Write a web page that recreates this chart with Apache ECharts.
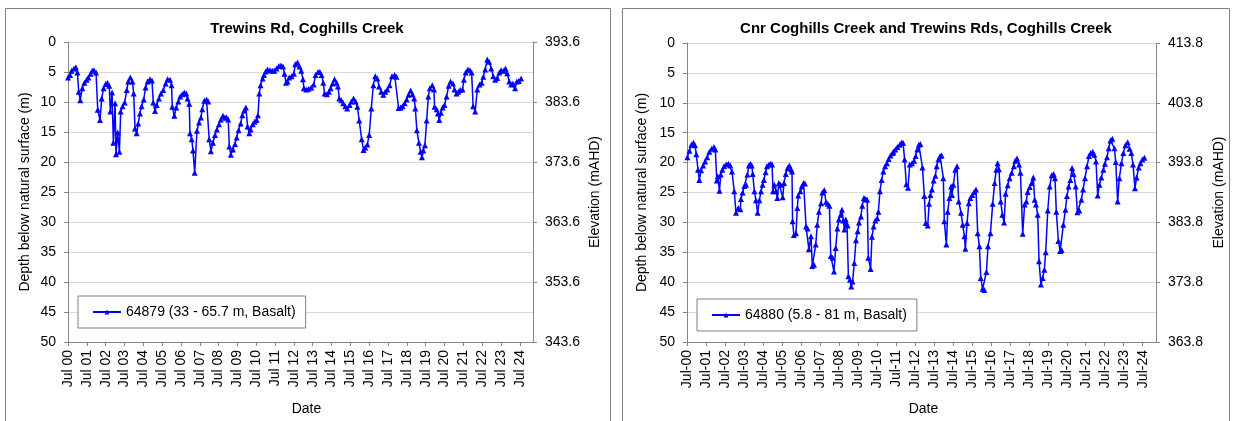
<!DOCTYPE html>
<html>
<head>
<meta charset="utf-8">
<title>Coghills Creek bores</title>
<script src="https://cdn.jsdelivr.net/npm/echarts@6/dist/echarts.min.js"></script>
<style>
  html, body { margin: 0; padding: 0; background: #fff; }
  #chart { width: 1234px; height: 421px; }
</style>
</head>
<body>
<div id="chart"></div>
<script>
  // x positions are decimal years, Jul 2000 = 2000.5
  const tickYears = [2000.5, 2001.5, 2002.5, 2003.5, 2004.5, 2005.5, 2006.5, 2007.5, 2008.5, 2009.5,
    2010.5, 2011.5, 2012.5, 2013.5, 2014.5, 2015.5, 2016.5, 2017.5, 2018.5, 2019.5,
    2020.5, 2021.5, 2022.5, 2023.5, 2024.5];
  const leftTickLabels = ['Jul 00', 'Jul 01', 'Jul 02', 'Jul 03', 'Jul 04', 'Jul 05', 'Jul 06', 'Jul 07', 'Jul 08',
    'Jul 09', 'Jul 10', 'Jul 11', 'Jul 12', 'Jul 13', 'Jul 14', 'Jul 15', 'Jul 16', 'Jul 17', 'Jul 18',
    'Jul 19', 'Jul 20', 'Jul 21', 'Jul 22', 'Jul 23', 'Jul 24'];
  const rightTickLabels = ['Jul-00', 'Jul-01', 'Jul-02', 'Jul-03', 'Jul-04', 'Jul-05', 'Jul-06', 'Jul-07', 'Jul-08',
    'Jul-09', 'Jul-10', 'Jul-11', 'Jul-12', 'Jul-13', 'Jul-14', 'Jul-15', 'Jul-16', 'Jul-17', 'Jul-18',
    'Jul-19', 'Jul-20', 'Jul-21', 'Jul-22', 'Jul-23', 'Jul-24'];
  const leftElevLabels = ['393.6', '383.6', '373.6', '363.6', '353.6', '343.6'];
  const rightElevLabels = ['413.8', '403.8', '393.8', '383.8', '373.8', '363.8'];

  // bore 64879 - Trewins Rd
  const bore64879Years = [
    2000.50, 2000.61, 2000.69, 2000.82, 2000.92, 2001.00, 2001.07, 2001.15, 2001.26, 2001.37,
    2001.49, 2001.58, 2001.70, 2001.79, 2001.88, 2001.99, 2002.08, 2002.20, 2002.29, 2002.39,
    2002.50, 2002.59, 2002.69, 2002.75, 2002.84, 2002.91, 2003.00, 2003.05, 2003.14, 2003.23,
    2003.30, 2003.40, 2003.51, 2003.62, 2003.70, 2003.81, 2003.92, 2003.99, 2004.06, 2004.15,
    2004.23, 2004.32, 2004.41, 2004.52, 2004.62, 2004.73, 2004.85, 2004.96, 2005.03, 2005.12,
    2005.21, 2005.33, 2005.44, 2005.56, 2005.69, 2005.79, 2005.92, 2006.00, 2006.04, 2006.15,
    2006.25, 2006.36, 2006.46, 2006.57, 2006.68, 2006.78, 2006.85, 2006.94, 2006.98, 2007.07,
    2007.14, 2007.23, 2007.35, 2007.46, 2007.56, 2007.63, 2007.74, 2007.86, 2007.95, 2008.00,
    2008.09, 2008.20, 2008.31, 2008.41, 2008.52, 2008.62, 2008.73, 2008.84, 2008.92, 2009.01,
    2009.07, 2009.15, 2009.26, 2009.37, 2009.46, 2009.56, 2009.67, 2009.76, 2009.86, 2009.95,
    2010.04, 2010.13, 2010.20, 2010.31, 2010.41, 2010.52, 2010.59, 2010.66, 2010.73, 2010.84,
    2010.91, 2011.00, 2011.10, 2011.23, 2011.35, 2011.46, 2011.58, 2011.70, 2011.81, 2011.92,
    2012.00, 2012.08, 2012.16, 2012.25, 2012.38, 2012.50, 2012.57, 2012.69, 2012.80, 2012.89,
    2012.98, 2013.03, 2013.16, 2013.28, 2013.42, 2013.55, 2013.65, 2013.78, 2013.88, 2013.97,
    2014.06, 2014.13, 2014.25, 2014.36, 2014.45, 2014.56, 2014.66, 2014.77, 2014.84, 2014.91,
    2015.02, 2015.12, 2015.23, 2015.33, 2015.46, 2015.55, 2015.67, 2015.78, 2015.87, 2015.97,
    2016.10, 2016.20, 2016.29, 2016.40, 2016.50, 2016.61, 2016.72, 2016.82, 2016.93, 2017.02,
    2017.14, 2017.25, 2017.35, 2017.46, 2017.58, 2017.71, 2017.85, 2017.95, 2018.06, 2018.17,
    2018.27, 2018.38, 2018.49, 2018.59, 2018.70, 2018.80, 2018.89, 2018.95, 2019.03, 2019.14,
    2019.23, 2019.30, 2019.37, 2019.46, 2019.55, 2019.64, 2019.72, 2019.85, 2019.94, 2019.97,
    2020.08, 2020.15, 2020.22, 2020.31, 2020.40, 2020.50, 2020.61, 2020.72, 2020.82, 2020.95,
    2021.03, 2021.14, 2021.23, 2021.33, 2021.46, 2021.53, 2021.62, 2021.74, 2021.85, 2021.94,
    2022.02, 2022.13, 2022.24, 2022.36, 2022.47, 2022.56, 2022.66, 2022.77, 2022.87, 2022.98,
    2023.09, 2023.19, 2023.30, 2023.41, 2023.51, 2023.64, 2023.74, 2023.83, 2023.94, 2024.04,
    2024.13, 2024.25, 2024.34, 2024.45, 2024.57
  ];
  const bore64879Depth = [
    5.9, 5.5, 4.8, 4.4, 4.2, 5.1, 8.3, 9.7, 7.7, 6.8,
    6.3, 5.9, 5.3, 4.8, 4.7, 5.1, 11.3, 13.0, 9.4, 7.7,
    7.0, 6.8, 7.3, 11.6, 8.4, 16.8, 10.2, 18.7, 15.1, 18.3,
    11.6, 10.7, 10.1, 8.0, 6.6, 5.9, 6.6, 8.6, 14.4, 15.2,
    13.6, 11.9, 10.7, 9.6, 7.6, 6.6, 6.2, 6.4, 10.1, 11.5,
    10.5, 9.4, 8.6, 8.0, 6.9, 6.2, 6.3, 7.2, 10.8, 12.3,
    10.9, 9.9, 9.1, 8.7, 8.4, 8.6, 9.4, 10.3, 15.2, 16.2,
    18.1, 21.8, 14.8, 13.4, 12.6, 11.2, 9.8, 9.6, 9.9, 16.2,
    18.2, 16.8, 15.5, 14.6, 13.7, 12.9, 12.3, 12.6, 12.6, 12.9,
    17.4, 18.8, 17.9, 17.0, 15.9, 14.7, 13.6, 12.2, 11.4, 10.9,
    14.1, 15.2, 14.6, 13.7, 13.3, 13.0, 12.2, 8.6, 7.2, 6.1,
    5.5, 4.9, 4.6, 4.7, 4.8, 4.8, 4.4, 4.0, 3.9, 4.1,
    5.3, 6.8, 6.6, 5.9, 5.7, 5.3, 3.7, 3.4, 4.1, 4.8,
    6.2, 7.7, 7.9, 7.8, 7.6, 7.1, 5.5, 5.0, 5.0, 5.5,
    6.8, 8.6, 8.7, 8.3, 7.7, 6.9, 6.2, 6.8, 7.4, 9.4,
    9.7, 10.2, 10.7, 11.1, 10.5, 9.9, 9.4, 9.9, 10.8, 13.1,
    16.2, 18.0, 17.6, 17.1, 15.5, 11.1, 7.2, 5.7, 6.1, 7.4,
    8.3, 8.8, 8.3, 7.9, 7.2, 5.7, 5.5, 5.8, 11.0, 10.9,
    10.7, 10.2, 9.6, 8.8, 8.1, 8.7, 9.4, 11.1, 14.7, 16.8,
    18.3, 19.2, 18.1, 17.2, 13.1, 9.1, 7.7, 7.2, 7.9, 10.8,
    11.2, 11.9, 13.0, 11.8, 10.9, 10.5, 9.1, 7.3, 6.6, 6.9,
    7.9, 8.6, 8.3, 8.0, 7.9, 6.3, 5.1, 4.6, 4.7, 5.1,
    10.7, 11.6, 7.9, 7.1, 6.8, 5.8, 4.6, 2.9, 3.3, 4.4,
    5.7, 6.3, 6.0, 5.1, 4.7, 4.8, 4.4, 5.2, 6.6, 7.1,
    6.9, 7.7, 6.6, 6.5, 6.1
  ];

  // bore 64880 - Cnr Coghills Creek and Trewins Rds
  const bore64880Years = [
    2000.52, 2000.63, 2000.73, 2000.84, 2000.92, 2000.99, 2001.08, 2001.15, 2001.24, 2001.35,
    2001.45, 2001.56, 2001.68, 2001.80, 2001.92, 2001.99, 2002.07, 2002.12, 2002.21, 2002.28,
    2002.36, 2002.45, 2002.56, 2002.68, 2002.78, 2002.87, 2002.99, 2003.08, 2003.20, 2003.31,
    2003.34, 2003.43, 2003.52, 2003.61, 2003.68, 2003.76, 2003.84, 2003.91, 2003.96, 2004.05,
    2004.13, 2004.22, 2004.31, 2004.40, 2004.48, 2004.55, 2004.64, 2004.71, 2004.82, 2004.91,
    2004.98, 2005.03, 2005.10, 2005.19, 2005.26, 2005.34, 2005.43, 2005.54, 2005.61, 2005.70,
    2005.80, 2005.89, 2005.98, 2006.03, 2006.06, 2006.13, 2006.24, 2006.31, 2006.36, 2006.47,
    2006.54, 2006.64, 2006.71, 2006.77, 2006.85, 2006.92, 2007.03, 2007.10, 2007.19, 2007.28,
    2007.36, 2007.45, 2007.56, 2007.63, 2007.73, 2007.82, 2007.91, 2008.00, 2008.07, 2008.17,
    2008.24, 2008.33, 2008.42, 2008.50, 2008.59, 2008.66, 2008.73, 2008.79, 2008.86, 2008.93,
    2008.96, 2009.00, 2009.08, 2009.15, 2009.22, 2009.31, 2009.40, 2009.49, 2009.56, 2009.66,
    2009.73, 2009.82, 2009.91, 2009.99, 2010.05, 2010.17, 2010.24, 2010.33, 2010.42, 2010.52,
    2010.58, 2010.66, 2010.75, 2010.84, 2010.93, 2011.03, 2011.12, 2011.22, 2011.33, 2011.37,
    2011.47, 2011.58, 2011.70, 2011.79, 2011.88, 2011.96, 2012.05, 2012.14, 2012.23, 2012.35,
    2012.46, 2012.54, 2012.63, 2012.71, 2012.79, 2012.90, 2013.00, 2013.07, 2013.18, 2013.25,
    2013.32, 2013.40, 2013.49, 2013.58, 2013.65, 2013.74, 2013.83, 2013.91, 2014.00, 2014.05,
    2014.16, 2014.23, 2014.32, 2014.41, 2014.46, 2014.53, 2014.63, 2014.72, 2014.81, 2014.93,
    2015.02, 2015.11, 2015.16, 2015.25, 2015.34, 2015.42, 2015.53, 2015.62, 2015.72, 2015.81,
    2015.90, 2015.97, 2016.07, 2016.16, 2016.27, 2016.35, 2016.48, 2016.60, 2016.70, 2016.79,
    2016.86, 2016.93, 2017.02, 2017.11, 2017.20, 2017.28, 2017.39, 2017.49, 2017.60, 2017.71,
    2017.79, 2017.88, 2017.99, 2018.06, 2018.18, 2018.28, 2018.37, 2018.44, 2018.55, 2018.65,
    2018.74, 2018.81, 2018.88, 2018.97, 2019.04, 2019.14, 2019.23, 2019.32, 2019.39, 2019.50,
    2019.60, 2019.71, 2019.81, 2019.88, 2019.95, 2020.06, 2020.15, 2020.23, 2020.32, 2020.43,
    2020.51, 2020.60, 2020.69, 2020.78, 2020.86, 2020.97, 2021.06, 2021.16, 2021.27, 2021.36,
    2021.46, 2021.57, 2021.67, 2021.76, 2021.87, 2021.95, 2022.04, 2022.13, 2022.22, 2022.32,
    2022.43, 2022.51, 2022.62, 2022.71, 2022.80, 2022.90, 2023.01, 2023.08, 2023.18, 2023.27,
    2023.38, 2023.48, 2023.59, 2023.71, 2023.81, 2023.90, 2023.99, 2024.09, 2024.18, 2024.29,
    2024.38, 2024.48, 2024.59
  ];
  const bore64880Depth = [
    19.1, 18.0, 17.0, 16.7, 17.1, 18.6, 21.2, 22.9, 21.3, 20.5,
    19.8, 19.1, 18.2, 17.7, 17.4, 17.8, 23.0, 22.3, 24.7, 22.0,
    21.2, 20.6, 20.3, 20.2, 20.5, 21.5, 24.8, 28.4, 27.6, 27.8,
    26.1, 25.0, 23.9, 23.7, 22.0, 20.5, 20.2, 20.5, 21.9, 24.8,
    26.3, 28.4, 26.3, 24.8, 23.7, 22.9, 21.6, 20.6, 20.3, 20.2,
    20.3, 24.8, 23.7, 24.8, 25.9, 23.4, 23.7, 25.8, 23.4, 21.9,
    20.9, 20.5, 21.1, 21.5, 29.8, 32.1, 31.8, 27.6, 25.5, 24.8,
    24.0, 23.4, 23.5, 30.7, 31.0, 34.5, 32.3, 37.3, 37.1, 33.7,
    30.4, 28.2, 26.8, 25.0, 24.6, 26.6, 26.9, 27.2, 35.6, 35.9,
    38.2, 34.3, 31.0, 29.5, 28.7, 27.9, 29.7, 31.2, 29.5, 30.4,
    30.5, 39.0, 39.6, 40.7, 39.9, 36.8, 33.0, 31.5, 30.0, 29.0,
    27.2, 25.9, 26.1, 26.2, 35.9, 37.8, 32.4, 30.7, 29.7, 29.3,
    28.2, 24.8, 22.9, 21.5, 20.6, 20.1, 19.4, 18.8, 18.4, 18.2,
    17.8, 17.4, 17.0, 16.7, 16.7, 19.5, 23.6, 24.2, 20.3, 20.1,
    19.7, 18.9, 17.8, 17.0, 16.9, 20.8, 25.6, 30.1, 30.5, 26.9,
    25.4, 24.5, 23.0, 22.2, 20.6, 19.5, 18.9, 18.8, 22.6, 29.8,
    33.7, 28.2, 25.9, 24.0, 25.4, 23.7, 21.2, 20.6, 26.5, 28.4,
    30.4, 32.3, 34.4, 30.1, 26.8, 25.9, 25.4, 24.9, 24.5, 31.8,
    34.0, 39.3, 41.1, 41.3, 38.3, 34.0, 31.8, 26.9, 23.4, 21.2,
    20.1, 21.1, 26.5, 28.7, 30.0, 25.2, 23.8, 22.6, 21.7, 20.6,
    19.7, 19.3, 20.3, 21.7, 31.9, 27.0, 26.5, 24.9, 24.1, 23.4,
    22.5, 26.2, 27.0, 28.7, 36.5, 40.4, 39.3, 37.9, 35.0, 28.0,
    24.0, 22.1, 21.9, 22.6, 28.2, 33.1, 34.8, 34.6, 30.4, 27.9,
    25.6, 24.0, 22.9, 20.9, 21.9, 24.0, 28.3, 28.0, 26.2, 24.5,
    22.6, 20.6, 18.9, 18.4, 18.2, 18.7, 19.8, 25.5, 23.7, 22.5,
    21.2, 20.2, 19.1, 17.6, 16.3, 16.0, 17.6, 19.9, 26.5, 22.6,
    20.1, 18.4, 17.1, 16.6, 17.7, 18.4, 20.3, 24.3, 22.5, 20.8,
    20.1, 19.5, 19.2
  ];

  const leftName = '64879 (33 - 65.7 m, Basalt)';
  const rightName = '64880 (5.8 - 81 m, Basalt)';

  const font = 'Liberation Sans, Arial, sans-serif';
  const axisGrey = '#868686';

  function pairs(xs, ys) {
    return xs.map((x, i) => [x, ys[i]]);
  }

  function dateAxis(gridIndex, labels, pad) {
    return {
      type: 'value',
      gridIndex: gridIndex,
      min: 2000.5,
      max: 2025.2,
      name: 'Date',
      nameLocation: 'middle',
      nameGap: 60,
      nameTextStyle: {fontFamily: font, fontSize: 14, color: '#000', padding: pad},
      axisLine: {show: true, onZero: false, lineStyle: {color: axisGrey}},
      axisTick: {show: true, length: 4, customValues: tickYears, lineStyle: {color: axisGrey}},
      axisLabel: {
        customValues: tickYears,
        rotate: 90,
        margin: 8,
        fontFamily: font,
        fontSize: 14,
        color: '#000',
        formatter: v => labels[tickYears.indexOf(v)]
      },
      splitLine: {show: false}
    };
  }

  function depthAxis(gridIndex, gap) {
    return {
      type: 'value',
      gridIndex: gridIndex,
      position: 'left',
      inverse: true,
      min: 0,
      max: 50,
      interval: 5,
      name: 'Depth below natural surface (m)',
      nameLocation: 'middle',
      nameGap: gap,
      nameTextStyle: {fontFamily: font, fontSize: 14, color: '#000'},
      axisLine: {show: true, lineStyle: {color: axisGrey}},
      axisTick: {show: true, length: 4, lineStyle: {color: axisGrey}},
      axisLabel: {margin: 12, fontFamily: font, fontSize: 14, color: '#000'},
      splitLine: {show: true, lineStyle: {color: '#d9d9d9', width: 1}}
    };
  }

  function elevAxis(gridIndex, labels, gap) {
    return {
      type: 'value',
      gridIndex: gridIndex,
      position: 'right',
      inverse: true,
      min: 0,
      max: 50,
      interval: 10,
      name: 'Elevation (mAHD)',
      nameLocation: 'middle',
      nameGap: gap,
      nameRotate: 90,
      nameTextStyle: {fontFamily: font, fontSize: 14, color: '#000'},
      axisLine: {show: true, lineStyle: {color: axisGrey}},
      axisTick: {show: true, length: 4, lineStyle: {color: axisGrey}},
      axisLabel: {margin: 12, fontFamily: font, fontSize: 14, color: '#000',
        formatter: v => labels[v / 10]},
      splitLine: {show: false}
    };
  }

  function boreSeries(name, idx, data) {
    return {
      name: name,
      type: 'line',
      xAxisIndex: idx,
      yAxisIndex: idx * 2,
      data: data,
      symbol: 'triangle',
      symbolSize: 6,
      showAllSymbol: true,
      color: '#0000ff',
      lineStyle: {color: '#0000ff', width: 1.5},
      itemStyle: {color: '#0000ff'}
    };
  }

  function boreLegend(name, left, top) {
    return {
      data: [name],
      left: left,
      top: top,
      orient: 'vertical',
      padding: [9, 10, 9, 14],
      itemWidth: 28,
      itemHeight: 6,
      borderColor: '#808080',
      borderWidth: 1,
      borderRadius: 0,
      backgroundColor: '#fff',
      textStyle: {fontFamily: font, fontSize: 14, color: '#000'}
    };
  }

  const chart = echarts.init(document.getElementById('chart'));
  chart.setOption({
    animation: false,
    backgroundColor: '#fff',
    title: [
      {text: 'Trewins Rd, Coghills Creek', left: 302, top: 16, textAlign: 'center',
        textStyle: {fontFamily: font, fontSize: 15, fontWeight: 'bold', color: '#000'}},
      {text: 'Cnr Coghills Creek and Trewins Rds, Coghills Creek', left: 921, top: 16, textAlign: 'center',
        textStyle: {fontFamily: font, fontSize: 15, fontWeight: 'bold', color: '#000'}}
    ],
    graphic: [
      {type: 'rect', shape: {x: 5.5, y: 8.5, width: 605, height: 420}, z: -10,
        style: {fill: '#fff', stroke: '#808080', lineWidth: 1}},
      {type: 'rect', shape: {x: 622.5, y: 8.5, width: 607, height: 420}, z: -10,
        style: {fill: '#fff', stroke: '#808080', lineWidth: 1}}
    ],
    grid: [
      {left: 68, top: 42, width: 465, height: 300},
      {left: 687, top: 43, width: 469, height: 299}
    ],
    legend: [
      boreLegend(leftName, 78, 296),
      boreLegend(rightName, 697, 299)
    ],
    xAxis: [
      dateAxis(0, leftTickLabels, [0, 0, 0, 12]),
      dateAxis(1, rightTickLabels, [0, 0, 0, 4])
    ],
    yAxis: [
      depthAxis(0, 36),
      elevAxis(0, leftElevLabels, 55),
      depthAxis(1, 38),
      elevAxis(1, rightElevLabels, 56)
    ],
    series: [
      boreSeries(leftName, 0, pairs(bore64879Years, bore64879Depth)),
      boreSeries(rightName, 1, pairs(bore64880Years, bore64880Depth))
    ]
  });
</script>
</body>
</html>
